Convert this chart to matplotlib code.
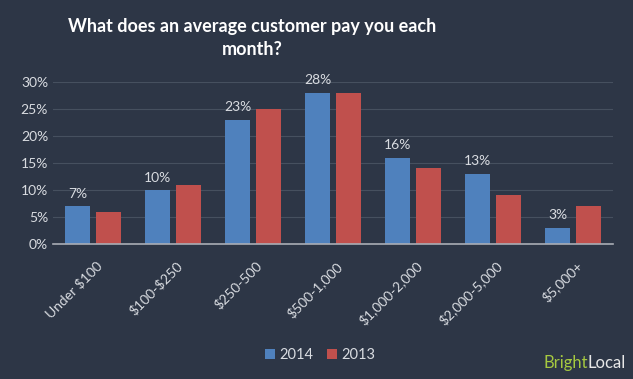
import matplotlib.pyplot as plt
import matplotlib.transforms as mtransforms
import numpy as np

plt.rcParams['font.family'] = ['Lato', 'DejaVu Sans']
plt.rcParams['text.parse_math'] = False

categories = ['Under $100', '$100-$250', '$250-500', '$500-1,000',
              '$1,000-2,000', '$2,000-5,000', '$5,000+']
y2014 = [7, 10, 23, 28, 16, 13, 3]
y2013 = [6, 11, 25, 28, 14, 9, 7]
yticks = [0, 5, 10, 15, 20, 25, 30]

bg = '#2d3646'
txt = '#d9dce1'
blue = '#4f81bd'
red = '#c0504d'

fig = plt.figure(figsize=(6.33, 3.79), dpi=100, facecolor=bg)
ax = fig.add_axes([53/633, 1 - 244/379, 560/633, (244 - 82)/379])
ax.set_facecolor('none')

x = np.arange(len(categories))
w = 0.31
ax.bar(x - 0.19, y2014, w, color=blue, label='2014', zorder=3)
ax.bar(x + 0.195, y2013, w, color=red, label='2013', zorder=3)

for xi, v in zip(x, y2014):
    ax.text(xi - 0.19, v + 1.2, f'{v}%', ha='center', va='bottom',
            color=txt, fontsize=10)

ax.set_xlim(-0.5, len(categories) - 0.5)
ax.set_ylim(0, 30)
ax.set_yticks(yticks)
ax.set_yticklabels([f'{t}%' for t in yticks])
ax.set_xticks(x)
ax.set_xticklabels(categories, rotation=45, ha='right', rotation_mode='anchor')
ax.tick_params(colors=txt, labelsize=10, length=0)
ax.tick_params(axis='x', pad=11)
shift = mtransforms.ScaledTranslation(2/72, 0, fig.dpi_scale_trans)
for lab in ax.get_xticklabels():
    lab.set_transform(lab.get_transform() + shift)
ax.yaxis.grid(True, color='#46505f', linewidth=0.8, zorder=0)
for s in ['top', 'right', 'left']:
    ax.spines[s].set_visible(False)
ax.spines['bottom'].set_color('#a9adb5')
ax.spines['bottom'].set_linewidth(1.2)
ax.spines['bottom'].set_zorder(4)

fig.text(252/633, 1 - 38/379, 'What does an average customer pay you each\nmonth?',
         ha='center', va='center', color='white', fontsize=13, fontweight='bold',
         linespacing=1.45)

fig.legend(loc='center', bbox_to_anchor=(320/633, 1 - 355/379), ncol=2,
           frameon=False, labelcolor=txt, fontsize=10.5, handlelength=0.7,
           handleheight=0.7, handletextpad=0.3, columnspacing=0.9)

# logo, right aligned
r = fig.canvas.get_renderer()
t2 = fig.text(626/633, 1 - 363/379, 'Local', color='#e8e8e8', fontsize=12,
              ha='right', va='center')
bb = t2.get_window_extent(r)
fig.text(bb.x0 / fig.bbox.width, 1 - 363/379, 'Bright', color='#a6c940',
         fontsize=12, ha='right', va='center')

fig.savefig('out.png', dpi=100, facecolor=bg)
